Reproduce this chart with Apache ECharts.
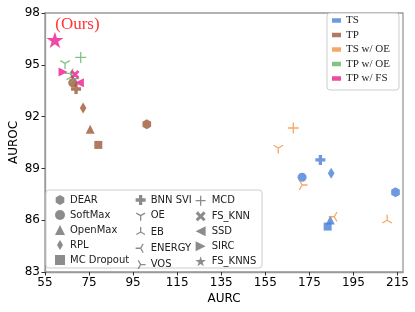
<!DOCTYPE html>
<html>
<head>
<meta charset="utf-8">
<script src="https://cdn.jsdelivr.net/npm/echarts@6/dist/echarts.min.js"></script>
<style>html,body{margin:0;padding:0;background:#fff;}#c{width:415px;height:312px;}</style>
</head>
<body>
<div id="c"></div>
<script>
// ---- data ----
const xTicks = [55, 75, 95, 115, 135, 155, 175, 195, 215];
const yTicks = [83, 86, 89, 92, 95, 98];
const groups = ['TS', 'TP', 'TS w/ OE', 'TP w/ OE', 'TP w/ FS'];
const methods = ['DEAR', 'SoftMax', 'OpenMax', 'RPL', 'MC Dropout',
                 'BNN SVI', 'OE', 'EB', 'ENERGY', 'VOS',
                 'MCD', 'FS_KNN', 'SSD', 'SIRC', 'FS_KNNS'];

const tsMethods = ['DEAR', 'SoftMax', 'OpenMax', 'RPL', 'MC Dropout', 'BNN SVI'];
const tsAURC    = [214.1, 171.7, 184.5, 184.9, 183.3, 180.0];
const tsAUROC   = [87.62, 88.49, 86.01, 88.72, 85.63, 89.49];

const tpMethods = ['DEAR', 'SoftMax', 'OpenMax', 'RPL', 'MC Dropout', 'BNN SVI'];
const tpAURC    = [101.2, 67.6, 75.5, 72.3, 79.2, 69.1];
const tpAUROC   = [91.56, 93.96, 91.27, 92.5, 90.36, 93.6];

const tsoeMethods = ['MCD', 'OE', 'EB', 'ENERGY', 'VOS'];
const tsoeAURC    = [167.7, 160.9, 210.3, 186.3, 171.7];
const tsoeAUROC   = [91.34, 90.18, 86.0, 86.2, 88.04];

const tpoeMethods = ['MCD', 'OE', 'EB', 'ENERGY', 'VOS'];
const tpoeAURC    = [71.2, 64.1, 67.0, 66.5, 68.0];
const tpoeAUROC   = [95.43, 95.08, 94.3, 94.5, 94.2];

const tpfsMethods = ['FS_KNNS', 'SIRC', 'FS_KNN', 'SSD'];
const tpfsAURC    = [59.5, 63.2, 68.6, 70.6];
const tpfsAUROC   = [96.44, 94.58, 94.44, 93.96];

// ---- styles ----
const colors = {'TS': '#4a7fd6', 'TP': '#9d5735', 'TS w/ OE': '#f4913f', 'TP w/ OE': '#66b366', 'TP w/ FS': '#ec1a8c'};
const STAR = 'path://M0,-10L2.245,-3.09L9.51,-3.09L3.633,1.18L5.88,8.09L0,3.82L-5.88,8.09L-3.633,1.18L-9.51,-3.09L-2.245,-3.09Z';
const SYM = {
  'DEAR':       {s: 'path://M0,-10L8.66,-5L8.66,5L0,10L-8.66,5L-8.66,-5Z', size: 10, fill: true},
  'SoftMax':    {s: 'circle', size: 9, fill: true},
  'OpenMax':    {s: 'triangle', size: 9, fill: true},
  'RPL':        {s: 'path://M0,-5L3,0L0,5L-3,0Z', size: 11, fill: true},
  'MC Dropout': {s: 'rect', size: 8, fill: true},
  'BNN SVI':    {s: 'path://M-1,-3L1,-3L1,-1L3,-1L3,1L1,1L1,3L-1,3L-1,1L-3,1L-3,-1L-1,-1Z', size: 10, fill: true},
  'OE':         {s: 'path://M-10,-10M10,10M0,0L0,10M0,0L-8.66,-5M0,0L8.66,-5', size: 11, fill: false},
  'EB':         {s: 'path://M-10,-10M10,10M0,0L0,-10M0,0L-8.66,5M0,0L8.66,5', size: 11, fill: false},
  'ENERGY':     {s: 'path://M-10,-10M10,10M0,0L-10,0M0,0L5,-8.66M0,0L5,8.66', size: 11, fill: false},
  'VOS':        {s: 'path://M-10,-10M10,10M0,0L10,0M0,0L-5,-8.66M0,0L-5,8.66', size: 11, fill: false},
  'MCD':        {s: 'path://M-10,-10M10,10M0,-10L0,10M-10,0L10,0', size: 11, fill: false},
  'FS_KNN':     {s: 'path://M-3,-1.7L-1.7,-3L0,-1.3L1.7,-3L3,-1.7L1.3,0L3,1.7L1.7,3L0,1.3L-1.7,3L-3,1.7L-1.3,0Z', size: 9, fill: true},
  'SSD':        {s: 'path://M-5,0L5,-5L5,5Z', size: 9, fill: true},
  'SIRC':       {s: 'path://M5,0L-5,-5L-5,5Z', size: 9, fill: true},
  'FS_KNNS':    {s: STAR, size: 17, fill: true}
};

function styleFor(m, c) {
  return SYM[m].fill ? {color: c, borderWidth: 0}
                     : {color: 'rgba(0,0,0,0)', borderColor: c, borderWidth: 1.3};
}
function build(group, ms, xs, ys) {
  const c = colors[group];
  return ms.map((m, i) => {
    const d = {name: m, value: [xs[i], ys[i]], symbol: SYM[m].s, symbolSize: SYM[m].size, itemStyle: styleFor(m, c)};
    if (group === 'TP w/ FS' && m === 'FS_KNNS') {
      d.label = {show: true, formatter: '(Ours)', position: 'inside', offset: [22.5, -15.5],
                 color: '#ff0000', fontFamily: 'Liberation Serif', fontSize: 17};
    }
    return d;
  });
}

const gray = '#6f6f6f';
const series = [
  {name: 'TS', type: 'scatter', symbolKeepAspect: true, data: build('TS', tsMethods, tsAURC, tsAUROC), z: 3},
  {name: 'TP', type: 'scatter', symbolKeepAspect: true, data: build('TP', tpMethods, tpAURC, tpAUROC), z: 3},
  {name: 'TS w/ OE', type: 'scatter', symbolKeepAspect: true, data: build('TS w/ OE', tsoeMethods, tsoeAURC, tsoeAUROC), z: 4},
  {name: 'TP w/ OE', type: 'scatter', symbolKeepAspect: true, data: build('TP w/ OE', tpoeMethods, tpoeAURC, tpoeAUROC), z: 4},
  {name: 'TP w/ FS', type: 'scatter', symbolKeepAspect: true, data: build('TP w/ FS', tpfsMethods, tpfsAURC, tpfsAUROC), z: 5}
];
methods.forEach(m => series.push({name: m, type: 'scatter', data: []}));

function methodLegend(list, left, top, iw) {
  return {
    orient: 'vertical', left: left, top: top, padding: 0,
    itemWidth: iw, itemHeight: 10, itemGap: 5, selectedMode: false,
    textStyle: {fontFamily: 'DejaVu Sans', fontSize: 10, color: '#222', lineHeight: 10, padding: [0,0,0,0]},
    data: list.map(m => ({name: m, icon: SYM[m].s, itemStyle: styleFor(m, gray)}))
  };
}

const chart = echarts.init(document.getElementById('c'), null, {renderer: 'canvas'});
chart.setOption({
  backgroundColor: '#fff',
  animation: false,
  grid: {left: 45, right: 12, top: 13, bottom: 40, containLabel: false, outerBoundsMode: 'none',
         show: true, borderColor: '#999', borderWidth: 1.3, backgroundColor: 'transparent'},
  xAxis: {
    type: 'value', min: 55, max: 217.5,
    name: 'AURC', nameLocation: 'middle', nameGap: 20.5, nameMoveOverlap: false,
    nameTextStyle: {fontFamily: 'DejaVu Sans', fontSize: 12, color: '#000'},
    axisLine: {show: true, lineStyle: {color: '#999', width: 1.3}},
    axisTick: {show: true, length: 3.5, lineStyle: {color: '#333'}, customValues: xTicks},
    axisLabel: {customValues: xTicks, margin: 5, fontFamily: 'DejaVu Sans', fontSize: 12, color: '#000'},
    splitLine: {show: false}
  },
  yAxis: {
    type: 'value', min: 83, max: 98,
    name: 'AUROC', nameLocation: 'middle', nameGap: 25, nameRotate: 90, nameMoveOverlap: false,
    nameTextStyle: {fontFamily: 'DejaVu Sans', fontSize: 12, color: '#000'},
    axisLine: {show: true, lineStyle: {color: '#999', width: 1.3}},
    axisTick: {show: true, length: 3.5, lineStyle: {color: '#333'}, customValues: yTicks},
    axisLabel: {customValues: yTicks, margin: 5, fontFamily: 'DejaVu Sans', fontSize: 12, color: '#000'},
    splitLine: {show: false}
  },
  graphic: [
    {type: 'rect', shape: {x: 46, y: 190, width: 216, height: 78, r: 3},
     style: {fill: 'rgba(255,255,255,0.85)', stroke: '#cccccc', lineWidth: 1}, z: 10},
    {type: 'rect', shape: {x: 327, y: 13, width: 72, height: 77, r: 3},
     style: {fill: 'rgba(255,255,255,0.85)', stroke: '#cccccc', lineWidth: 1}, z: 10}
  ],
  legend: [
    {
      orient: 'vertical', left: 332, top: 14.5, padding: 0,
      itemWidth: 9, itemHeight: 4.5, itemGap: 2.5, selectedMode: false,
      textStyle: {fontFamily: 'Liberation Serif', fontSize: 11, color: '#222', lineHeight: 12},
      data: groups.map(g => ({name: g, icon: 'rect', itemStyle: {color: colors[g], borderWidth: 0}})),
      z: 20
    },
    Object.assign(methodLegend(methods.slice(0, 5), 55, 195, 10), {z: 20}),
    Object.assign(methodLegend(methods.slice(5, 10), 135, 195, 10), {z: 20}),
    Object.assign(methodLegend(methods.slice(10, 15), 195, 195, 12), {z: 20})
  ],
  series: series
});
</script>
</body>
</html>
